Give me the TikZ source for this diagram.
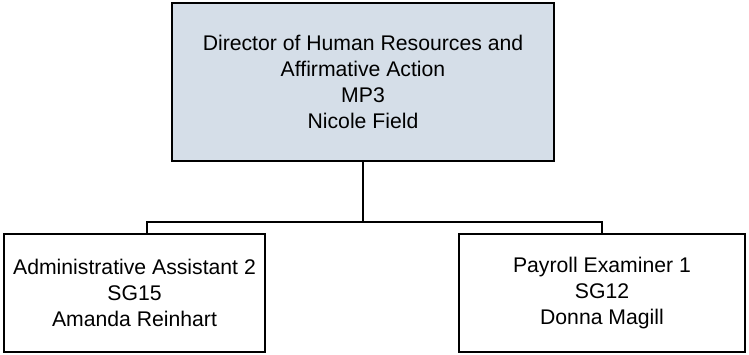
\documentclass[tikz,border=0pt]{standalone}
\usepackage{fontspec}
\setmainfont{Liberation Sans}
\definecolor{topfill}{RGB}{213,222,232}
\begin{document}
\begin{tikzpicture}[x=1pt,y=-1pt,
  box/.style={draw=black, line width=2.5pt, inner sep=0pt, align=center,
    font=\fontsize{21.2}{26}\selectfont},
  link/.style={draw=black, line width=2.5pt, line join=miter}]
\useasboundingbox (0,0) rectangle (749,355);
\node[box, fill=topfill, minimum width=382pt, minimum height=158pt] (dir) at (363,82)
  {Director of Human Resources and\\Affirmative Action\\MP3\\Nicole Field};
\node[box, minimum width=261pt, minimum height=118pt] (aa) at (134.5,293)
  {Administrative Assistant 2\\SG15\\Amanda Reinhart};
\node[box, minimum width=286pt, minimum height=118pt] (pe) at (602,293)
  {Payroll Examiner 1\\SG12\\Donna Magill};
\coordinate (j) at (363,222);
\draw[link] (dir.south) -- (j);
\draw[link] ([xshift=12.5pt]aa.north) |- (j) -| (pe.north);
\end{tikzpicture}
\end{document}
